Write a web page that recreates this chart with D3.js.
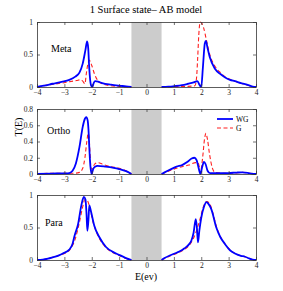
<!DOCTYPE html>
<html><head><meta charset="utf-8">
<script src="https://cdn.jsdelivr.net/npm/d3@7"></script>
<style>body{margin:0;background:#fff}svg{display:block}text{font-family:"Liberation Serif","Times New Roman",serif}</style>
</head><body><svg id="c" width="283" height="291"></svg>
<script>
// ---- data ----
const titleText = "1 Surface state\u2013 AB model";
const xLabel = "E(ev)";
const yLabel = "T(E)";
const xTicks = [-4,-3,-2,-1,0,1,2,3,4];
const panelNames = ["Meta","Ortho","Para"];
const panelYMax = [1, 0.8, 1];
const panelYTicks = [[0,0.5,1],[0,0.2,0.4,0.6,0.8],[0,0.5,1]];
const gap = [-0.55, 0.55];
const legendLabels = ["WG","G"];

// Meta
const metaWG_L = [[-4,0],[-3.75,0.02],[-3.43,0.05],[-3.1,0.08],[-2.82,0.11],[-2.6,0.16],[-2.45,0.22],[-2.33,0.36],[-2.23,0.57],[-2.17,0.70],[-2.13,0.6],[-2.09,0.28],[-2.03,0.03],[-1.98,0.0],[-1.93,0.06],[-1.87,0.09],[-1.75,0.08],[-1.62,0.06],[-1.3,0.035],[-1.0,0.02],[-0.75,0.01],[-0.55,0]];
const metaG_L = [[-4,0],[-3.75,0.02],[-3.43,0.04],[-3.1,0.06],[-2.82,0.08],[-2.55,0.1],[-2.42,0.11],[-2.33,0.09],[-2.25,0.05],[-2.2,0.2],[-2.14,0.36],[-2.09,0.41],[-2.0,0.33],[-1.9,0.2],[-1.78,0.1],[-1.62,0.05],[-1.3,0.02],[-1.0,0.01],[-0.55,0]];
const metaWG_R = [[0.55,0],[0.8,0.005],[1.03,0.015],[1.3,0.03],[1.52,0.05],[1.72,0.07],[1.86,0.09],[1.94,0.03],[2.0,0.0],[2.06,0.3],[2.13,0.67],[2.17,0.71],[2.23,0.6],[2.31,0.46],[2.5,0.28],[2.7,0.2],[2.86,0.15],[3.05,0.11],[3.23,0.09],[3.45,0.06],[3.6,0.045],[3.75,0.025],[3.88,0.005],[4,0]];
const metaG_R = [[0.55,0],[1.0,0.005],[1.5,0.01],[1.77,0.02],[1.83,0.15],[1.87,0.45],[1.91,0.8],[1.96,1.0],[2.02,0.98],[2.08,0.92],[2.19,0.72],[2.31,0.5],[2.5,0.32],[2.7,0.22],[2.86,0.16],[3.1,0.11],[3.35,0.07],[3.6,0.04],[3.8,0.015],[4,0]];

// Ortho
const orthoWG_L = [[-4,0],[-3.5,0.005],[-3.0,0.008],[-2.82,0.012],[-2.7,0.04],[-2.58,0.13],[-2.45,0.33],[-2.33,0.58],[-2.25,0.68],[-2.2,0.70],[-2.15,0.66],[-2.12,0.55],[-2.09,0.33],[-2.05,0.1],[-2.0,0.0],[-1.95,0.06],[-1.88,0.09],[-1.79,0.1],[-1.49,0.09],[-1.2,0.075],[-1.0,0.06],[-0.75,0.035],[-0.55,0]];
const orthoG_L = [[-4,0],[-3.5,0.01],[-3.0,0.01],[-2.6,0.01],[-2.45,0.02],[-2.33,0.07],[-2.25,0.2],[-2.18,0.4],[-2.13,0.5],[-2.09,0.42],[-2.06,0.22],[-2.02,0.06],[-1.97,0.07],[-1.9,0.12],[-1.79,0.14],[-1.6,0.12],[-1.3,0.09],[-1.0,0.07],[-0.75,0.04],[-0.55,0]];
const orthoWG_R = [[0.55,0],[0.66,0.02],[0.9,0.06],[1.1,0.09],[1.3,0.11],[1.5,0.15],[1.65,0.19],[1.75,0.2],[1.83,0.17],[1.9,0.08],[1.97,0.0],[2.03,0.08],[2.1,0.15],[2.16,0.12],[2.23,0.04],[2.32,0.01],[2.6,0.01],[3.0,0.012],[3.3,0.018],[3.5,0.02],[3.7,0.015],[3.85,0.003],[4,0]];
const orthoG_R = [[0.55,0],[0.7,0.02],[1.0,0.06],[1.3,0.09],[1.55,0.11],[1.8,0.14],[1.88,0.14],[1.94,0.08],[1.99,0.06],[2.05,0.2],[2.12,0.43],[2.17,0.5],[2.23,0.42],[2.3,0.25],[2.4,0.08],[2.5,0.02],[2.8,0.01],[3.2,0.01],[3.5,0.02],[3.75,0.01],[4,0]];

// Para
const paraWG_L = [[-4,0],[-3.79,0.005],[-3.6,0.02],[-3.43,0.04],[-3.2,0.07],[-3.06,0.1],[-2.82,0.16],[-2.7,0.25],[-2.63,0.37],[-2.5,0.55],[-2.38,0.84],[-2.29,0.97],[-2.23,0.93],[-2.19,0.7],[-2.16,0.45],[-2.12,0.62],[-2.09,0.84],[-2.03,0.75],[-1.91,0.53],[-1.72,0.35],[-1.48,0.2],[-1.11,0.1],[-0.9,0.06],[-0.75,0.03],[-0.55,0]];
const paraG_L = [[-4,0],[-3.79,0.005],[-3.6,0.02],[-3.43,0.04],[-3.2,0.07],[-3.0,0.1],[-2.8,0.16],[-2.6,0.33],[-2.45,0.58],[-2.33,0.82],[-2.25,0.93],[-2.17,0.92],[-2.08,0.82],[-1.95,0.58],[-1.8,0.4],[-1.6,0.25],[-1.4,0.16],[-1.11,0.09],[-0.9,0.05],[-0.75,0.025],[-0.55,0]];
const paraWG_R = [[0.55,0],[0.66,0.03],[0.85,0.07],[1.03,0.1],[1.2,0.13],[1.39,0.18],[1.55,0.24],[1.64,0.3],[1.72,0.42],[1.8,0.63],[1.84,0.5],[1.88,0.27],[1.93,0.45],[2.0,0.65],[2.1,0.82],[2.19,0.89],[2.27,0.86],[2.37,0.78],[2.55,0.5],[2.7,0.35],[2.86,0.25],[3.05,0.15],[3.23,0.1],[3.45,0.065],[3.6,0.05],[3.75,0.025],[3.88,0.005],[4,0]];
const paraG_R = [[0.55,0],[0.7,0.03],[0.9,0.07],[1.1,0.1],[1.3,0.14],[1.5,0.2],[1.65,0.28],[1.8,0.42],[1.95,0.62],[2.08,0.82],[2.2,0.9],[2.3,0.87],[2.4,0.76],[2.55,0.52],[2.7,0.36],[2.86,0.25],[3.05,0.16],[3.23,0.1],[3.45,0.065],[3.6,0.05],[3.75,0.025],[3.88,0.005],[4,0]];

const seriesWG = [[metaWG_L,metaWG_R],[orthoWG_L,orthoWG_R],[paraWG_L,paraWG_R]];
const seriesG = [[metaG_L,metaG_R],[orthoG_L,orthoG_R],[paraG_L,paraG_R]];

// ---- layout ----
const svg = d3.select("#c");
const left = 37, right = 256;
const panelTops = [22, 109, 195];
const panelH = 65;
const x = d3.scaleLinear().domain([-4,4]).range([left,right]);
const blue = "#0000ff", red = "#ff2020";

svg.append("text").attr("x",146).attr("y",13).attr("text-anchor","middle")
  .attr("font-size",10.5).text(titleText);

panelNames.forEach((name,i)=>{
  const top = panelTops[i];
  const y = d3.scaleLinear().domain([0,panelYMax[i]]).range([top+panelH, top]);
  const g = svg.append("g");
  g.append("rect").attr("x",x(gap[0])).attr("y",top).attr("width",x(gap[1])-x(gap[0]))
    .attr("height",panelH).attr("fill","#cccccc");
  const line = d3.line().x(d=>x(d[0])).y(d=>y(d[1])).curve(d3.curveMonotoneX);
  seriesG[i].forEach(seg=>{
    g.append("path").attr("d",line(seg)).attr("fill","none").attr("stroke",red)
      .attr("stroke-width",1.1).attr("stroke-dasharray","4,2.5");
  });
  seriesWG[i].forEach(seg=>{
    g.append("path").attr("d",line(seg)).attr("fill","none").attr("stroke",blue)
      .attr("stroke-width",1.8).attr("stroke-linejoin","round");
  });
  const ax = g.append("g").attr("transform",`translate(0,${top+panelH})`)
    .call(d3.axisBottom(x).tickValues(xTicks).tickSizeInner(-3).tickSizeOuter(0).tickPadding(3));
  const axT = g.append("g").attr("transform",`translate(0,${top})`)
    .call(d3.axisTop(x).tickValues(xTicks).tickSizeInner(-3).tickSizeOuter(0).tickFormat(""));
  const ay = g.append("g").attr("transform",`translate(${left},0)`)
    .call(d3.axisLeft(y).tickValues(panelYTicks[i]).tickSizeInner(-3).tickSizeOuter(0).tickPadding(4).tickFormat(d3.format("")));
  const ayR = g.append("g").attr("transform",`translate(${right},0)`)
    .call(d3.axisRight(y).tickValues(panelYTicks[i]).tickSizeInner(-3).tickSizeOuter(0).tickFormat(""));
  [ax,axT,ay,ayR].forEach(a=>{
    a.selectAll("path").attr("stroke","#333").attr("stroke-width",0.8);
    a.selectAll("line").attr("stroke","#333").attr("stroke-width",0.7);
    a.selectAll("text").attr("font-family","Liberation Serif, serif").attr("font-size",7.5).attr("fill","#222");
  });
  ax.selectAll("text").text(d=> d<0 ? "\u2212"+Math.abs(d) : d);
  g.append("text").attr("x",[51,47,45][i]).attr("y",[52,134,226][i]).attr("font-size",10).text(name);
});

// legend
const lg = svg.append("g");
lg.append("line").attr("x1",217).attr("x2",233).attr("y1",119).attr("y2",119).attr("stroke",blue).attr("stroke-width",1.8);
lg.append("line").attr("x1",217).attr("x2",233).attr("y1",128).attr("y2",128).attr("stroke",red).attr("stroke-width",1.1).attr("stroke-dasharray","4,2.5");
lg.append("text").attr("x",236).attr("y",121.5).attr("font-size",7.5).text(legendLabels[0]);
lg.append("text").attr("x",236).attr("y",130.5).attr("font-size",7.5).text(legendLabels[1]);

svg.append("text").attr("x",146).attr("y",280).attr("text-anchor","middle").attr("font-size",10).text(xLabel);
svg.append("text").attr("transform","translate(22,127) rotate(-90)").attr("text-anchor","middle").attr("font-size",10).text(yLabel);
</script></body></html>
